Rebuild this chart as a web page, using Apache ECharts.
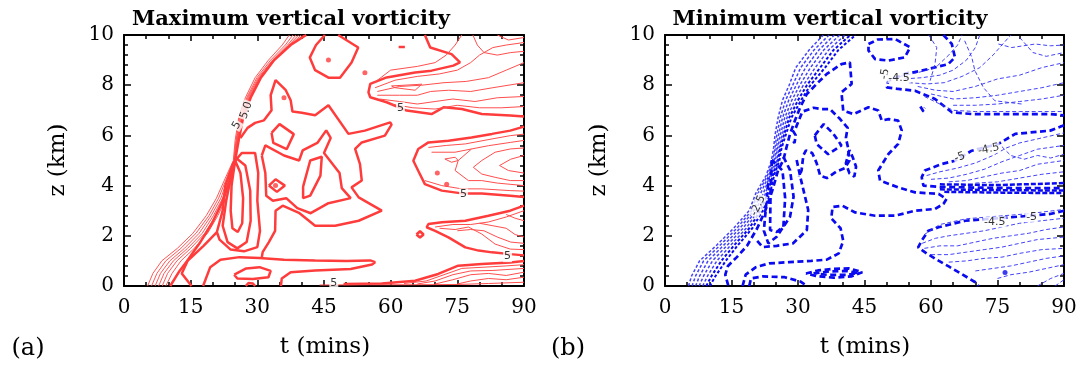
<!DOCTYPE html>
<html>
<head>
<meta charset="utf-8">
<script src="https://cdn.jsdelivr.net/npm/echarts@6/dist/echarts.min.js"></script>
<style>
  html, body { margin: 0; padding: 0; background: #fff; }
  #chart { width: 1081px; height: 365px; }
</style>
</head>
<body>
<div id="chart"></div>
<script>
// Contour traces of vertical vorticity in the (t, z) plane: [t in mins, z in km]

// ---------- (a) maximum vertical vorticity ----------
const maxFrontBold = [[10.4,0],[12.5,0.6],[14.2,1.0],[17,1.7],[19.8,2.5],[22,3.3],[23.8,4.2],[25,5.0],[25.8,5.8],[26.8,6.7],[28.5,7.5],[30.8,8.3],[33.8,9.0],[37.5,9.6],[41,10]];
const maxFrontThin = [
  [[5.3,0],[6.5,0.5],[8.5,1.0],[12,1.5],[15.5,2.1],[18.5,2.8],[20.8,3.5],[22.8,4.3],[24.6,5.0],[25.0,5.8],[25.8,6.7],[27.3,7.5],[29.5,8.3],[32.5,9.0],[35.6,9.6],[37.2,10]],
  [[6.2,0],[7.4,0.5],[9.4,1.0],[12.8,1.5],[16.2,2.1],[19.1,2.8],[21.3,3.5],[23.1,4.3],[24.7,5.0],[25.2,5.8],[26.0,6.7],[27.6,7.5],[29.9,8.3],[33.0,9.0],[36.3,9.6],[38.0,10]],
  [[7.0,0],[8.2,0.5],[10.3,1.0],[13.6,1.5],[16.9,2.1],[19.6,2.8],[21.8,3.5],[23.4,4.3],[24.8,5.0],[25.3,5.8],[26.2,6.7],[27.8,7.5],[30.2,8.3],[33.4,9.0],[36.8,9.6],[38.7,10]],
  [[7.8,0],[9.0,0.5],[11.1,1.0],[14.3,1.5],[17.6,2.1],[20.1,2.8],[22.2,3.5],[23.7,4.3],[24.9,5.0],[25.4,5.8],[26.4,6.7],[28.0,7.5],[30.4,8.3],[33.6,9.0],[37.1,9.6],[39.3,10]],
  [[8.6,0],[9.8,0.5],[11.9,1.0],[15.0,1.5],[18.2,2.1],[20.6,2.8],[22.6,3.5],[24.0,4.3],[25.0,5.0],[25.5,5.8],[26.5,6.7],[28.2,7.5],[30.6,8.3],[33.7,9.0],[37.3,9.6],[39.9,10]],
  [[9.4,0],[10.8,0.5],[12.8,1.0],[15.8,1.5],[18.8,2.1],[21.1,2.8],[23.0,3.5],[24.3,4.3],[25.0,5.0],[25.6,5.8],[26.6,6.7],[28.3,7.5],[30.7,8.3],[33.8,9.0],[37.4,9.6],[40.5,10]]
];
const maxLoops = [
  [[25,5.0],[24.2,4.0],[24.0,3.0],[24.4,2.3],[25.6,2.15],[26.6,2.5],[26.8,3.5],[26.2,4.5],[25,5.0]],
  [[25.2,5.1],[27.3,4.8],[28.4,3.8],[28.5,2.6],[27.6,1.75],[25.5,1.5],[23.3,1.75],[22.2,2.4],[23,3.4],[24,4.3],[25.2,5.1]],
  [[15.2,0],[13,0.5],[14.3,1.0],[17.9,1.6],[20.9,2.15],[22.2,3.0],[22.8,4.0],[24.6,4.9],[26.5,5.3],[29.5,5.3],[30.2,4.5],[30,3.4],[30.6,2.2],[30,1.55],[27,1.38],[24,1.45],[21.5,1.85],[20.9,2.15]]
];
const maxOuter = [[26.2,5.9],[27.8,6.3],[29.5,6.5],[31.5,6.6],[33.2,7.0],[33,7.6],[34.1,8.2],[36.4,7.8],[37.5,7.4],[37.9,6.95],[40,6.9],[43,6.8],[46,7.2],[50.5,6.06],[54.2,6.19],[59.9,6.52],[60.2,6.43],[58.7,5.99],[53.5,5.72],[52,5.46],[53.1,4.86],[53.5,4.2],[51.2,3.93],[52.8,3.53],[58,3.0],[52.8,2.6],[47.5,2.4],[43,2.4],[39.5,2.9],[35.7,3.2],[34.1,3.0],[34,2.2],[32.6,1.75],[31.2,1.35],[31,1.13]];
const maxInner = [[31,5.2],[31.8,5.6],[36,5.2],[39.4,5.0],[40.2,5.4],[43.5,5.7],[45.5,6.2],[46.5,5.9],[45,5.3],[48.5,4.5],[49,3.9],[51,3.5],[46,3.3],[42,2.9],[39,3.1],[36.5,3.5],[33.5,3.4],[32,3.6],[31.8,4.5],[31,5.2]];
const maxTongue = [[17.8,0],[19.4,0.75],[21.7,1.05],[26,1.15],[30.5,1.12],[36,1.05],[43,1.02],[50,1.0],[55.4,1.02],[56.5,0.95],[55.8,0.86],[51,0.68],[43,0.62],[37.5,0.55],[35.5,0.3],[35.3,0]];
const maxSmall = [
  [[24.8,0.45],[27.5,0.7],[30.5,0.75],[33,0.6],[32.5,0.35],[29,0.28],[25.5,0.3],[24.8,0.45]],
  [[45.2,10],[43.2,9.6],[41.8,9.1],[43,8.6],[46,8.3],[48.6,8.3],[51.2,8.9],[52.7,9.5],[48.2,10]],
  [[33.2,6.1],[35,6.45],[38.2,6.05],[36.6,5.45],[33.6,5.7],[33.2,6.1]],
  [[32.6,4.0],[34.1,4.25],[36.2,4.0],[34.4,3.75],[32.6,4.0]],
  [[40.3,3.96],[41.9,5.0],[44.5,5.15],[44.2,4.4],[41.9,3.6],[40.3,3.5],[40.3,3.96]],
  [[65.8,2.05],[66.6,2.18],[67.4,2.05],[66.6,1.93],[65.8,2.05]],
  [[61.8,9.52],[63.2,9.52]],
  [[27.4,0],[28,0.12],[29,0.1],[29.5,0]]
];
const maxUpperBold = [[67.7,10],[68.9,9.5],[73.7,9.24],[75.6,8.91],[74.1,8.78],[69.2,8.58],[65.5,8.51],[59.1,8.31],[55.4,8.05],[55,7.72],[55.4,7.52],[59.1,7.32],[63.6,6.99],[69.2,6.85],[71.9,7.12],[76,7.05],[80.5,6.85],[86.9,6.79],[90,6.75]];
const maxUpperThin = [
  [[56.3,8.1],[60,8.6],[66,8.75],[70,8.9],[72.5,9.2],[74.5,9.6],[76,10]],
  [[56.5,7.9],[61,8.2],[66,8.35],[71,8.45],[75,8.6],[78,8.9],[80,9.2],[83,9.5],[86,9.6],[90,9.7]],
  [[57,7.75],[62,7.95],[67,8.0],[72,8.1],[77,8.15],[82,8.3],[86,8.6],[90,8.9]],
  [[57,7.6],[62,7.6],[66,7.6],[69,7.75],[73,7.8],[78,7.75],[83,7.9],[90,8.1]],
  [[57.5,7.45],[62,7.35],[66,7.25],[70,7.35],[74,7.45],[79,7.35],[84,7.5],[90,7.55]],
  [[60,7.25],[65,7.1],[70,7.05],[75,7.2],[80,7.1],[85,7.1],[90,7.15]],
  [[60.2,7.97],[67,8.04],[65.5,7.8],[61,7.9],[60.2,7.97]],
  [[78.5,10],[79.5,9.6],[81,9.3],[84,9.2],[87,9.3],[90,9.35]],
  [[84,10],[86.5,9.8],[90,9.9]]
];
const maxMidBold = [[90,6.35],[86.9,6.19],[82.8,6.06],[78.2,5.92],[73,5.79],[68.5,5.72],[66.2,5.46],[65.1,4.99],[66.2,4.59],[67.7,4.06],[71.5,3.8],[76,3.69],[80.5,3.69],[86.9,3.6],[90,3.55]];
const maxMidThin = [
  [[68.5,5.52],[72.5,5.6],[76.8,5.66],[81,5.8],[86.9,5.99],[90,6.05]],
  [[69.2,5.33],[74.5,5.33],[78.2,5.46],[82,5.59],[86.9,5.72],[90,5.8]],
  [[90,5.5],[86.9,5.46],[83.5,5.33],[80.5,5.0],[78.6,4.73],[80.5,4.46],[83.5,4.33],[86.9,4.2],[90,4.2]],
  [[90,5.2],[87,5.05],[84.5,4.8],[86.5,4.6],[90,4.5]],
  [[78.2,5.46],[75.2,5.0],[74.5,4.6],[77.5,4.2],[80.5,4.2],[84,4.1],[90,4.0]],
  [[67.7,4.2],[71.5,4.0],[76,3.87],[80.5,3.87],[86.9,3.8],[90,3.78]],
  [[72.2,5.06],[74.5,5.13],[75.2,5.0],[73.7,4.93],[72.2,5.06]]
];
const maxLowBold = [[90,3.2],[86.9,3.0],[82,2.8],[76.8,2.6],[71.5,2.54],[68.5,2.47],[68.1,2.34],[70,2.2],[73,1.94],[76.8,1.54],[79.8,1.41],[82.8,1.34],[86.9,1.27],[90,1.22]];
const maxLowThin = [
  [[70,2.35],[74,2.45],[78,2.45],[82,2.55],[86,2.75],[90,3.0]],
  [[71,2.3],[74.5,2.25],[77.5,2.35],[80.5,2.07],[83.5,1.67],[86.9,1.47],[90,1.45]],
  [[75,2.2],[78,2.25],[81,2.2],[84,1.95],[87,1.75],[90,1.7]],
  [[80,2.5],[83,2.4],[86,2.3],[88,2.05],[90,1.95]],
  [[86,2.85],[88,2.7],[90,2.6]]
];
const maxBotBold = [[49.4,0.08],[58,0.1],[65.5,0.21],[70.7,0.48],[75.2,0.81],[80.5,0.88],[86.9,0.94],[90,1.0]];
const maxBotThin = [
  [[63,0.1],[68,0.2],[72,0.45],[76,0.7],[81,0.75],[86,0.8],[90,0.85]],
  [[66,0.08],[70,0.2],[74,0.45],[78,0.6],[83,0.62],[90,0.7]],
  [[70,0.08],[74,0.25],[78,0.45],[82,0.5],[86,0.42],[90,0.55]],
  [[75,0.08],[78,0.2],[82,0.3],[86,0.25],[90,0.35]],
  [[44,0.04],[55,0.05],[65,0.05],[75,0.06],[82,0.1],[90,0.15]]
];
const maxDots = [[46,9.0],[36,7.5],[54.2,8.5],[34.1,4.0],[70.5,4.5],[72.6,4.05]];
const maxLabels = [
  { t: 27.5, z: 7.0, text: '5.0', rot: 70 },
  { t: 25.4, z: 6.4, text: '5', rot: 60 },
  { t: 62.2, z: 7.1, text: '5', rot: 0 },
  { t: 76.4, z: 3.67, text: '5', rot: 0 },
  { t: 86.3, z: 1.17, text: '5', rot: 0 },
  { t: 47.2, z: 0.13, text: '5', rot: 0 }
];

// ---------- (b) minimum vertical vorticity ----------
const minFrontThin = [
  [[5.3,0],[6.0,0.4],[7.8,1.0],[11.5,1.6],[15.5,2.3],[19.0,3.0],[20.5,3.7],[22.8,4.4],[24.0,5.0],[24.5,5.5],[24.8,6.0],[25.5,6.7],[26.5,7.4],[28.0,8.0],[29.5,8.7],[32.5,9.4],[35.7,10]],
  [[6.1,0],[6.9,0.4],[8.7,1.0],[12.3,1.6],[16.2,2.3],[19.5,3.0],[21.0,3.7],[23.1,4.4],[24.3,5.0],[24.8,5.5],[25.2,6.0],[26.0,6.7],[27.2,7.4],[28.8,8.0],[30.6,8.7],[33.6,9.4],[37.0,10]],
  [[6.9,0],[7.8,0.4],[9.7,1.0],[13.1,1.6],[16.9,2.3],[20.0,3.0],[21.6,3.7],[23.4,4.4],[24.6,5.0],[25.1,5.5],[25.6,6.0],[26.5,6.7],[27.9,7.4],[29.6,8.0],[31.7,8.7],[34.7,9.4],[38.2,10]],
  [[7.7,0],[8.7,0.4],[10.7,1.0],[13.9,1.6],[17.6,2.3],[20.5,3.0],[22.2,3.7],[23.7,4.4],[24.9,5.0],[25.4,5.5],[26.0,6.0],[27.0,6.7],[28.6,7.4],[30.4,8.0],[32.8,8.7],[35.8,9.4],[39.4,10]],
  [[8.5,0],[9.6,0.4],[11.7,1.0],[14.7,1.6],[18.3,2.3],[21.0,3.0],[22.7,3.7],[24.0,4.4],[25.2,5.0],[25.7,5.5],[26.4,6.0],[27.5,6.7],[29.3,7.4],[31.2,8.0],[33.9,8.7],[36.9,9.4],[40.6,10]]
];
const minFrontHeavy = [
  [[9.3,0],[10.5,0.4],[12.7,1.0],[15.5,1.6],[19.0,2.3],[21.5,3.0],[23.2,3.7],[24.3,4.4],[25.5,5.0],[26.0,5.5],[26.8,6.0],[28.0,6.7],[30.0,7.4],[32.0,8.0],[35.0,8.7],[38.0,9.4],[41.8,10]],
  [[10.1,0],[11.4,0.4],[13.7,1.0],[16.3,1.6],[19.7,2.3],[22.0,3.0],[23.7,3.7],[24.6,4.4],[25.8,5.0],[26.3,5.5],[27.2,6.0],[28.5,6.7],[30.7,7.4],[32.8,8.0],[36.1,8.7],[39.1,9.4],[43.0,10]]
];
const minOuter = [[17.5,0],[18.2,0.45],[20.5,0.75],[23.5,0.9],[28,0.95],[33,1.0],[36.5,1.05],[39.2,1.3],[40.2,1.8],[39.6,2.3],[37.5,2.7],[37.8,3.15],[40,3.2],[42.9,2.93],[47.4,2.8],[51.9,2.8],[56.4,3.0],[60.9,3.07],[62.8,3.27],[63.5,3.47],[61.7,3.67],[56.4,3.73],[52.6,3.93],[48.5,4.2],[48.1,4.6],[50.4,5.26],[52.6,5.66],[53.4,6.19],[52.6,6.59],[50.4,6.65],[48.9,6.59],[48.1,6.99],[45.9,7.12],[42.5,6.85],[40.2,6.99],[39.8,7.72],[42.1,8.05],[41.7,8.91],[39.8,8.84],[36.5,8.45],[34.2,8.05],[32,7.65],[30.5,7.12],[29.3,6.59],[28.2,6.06],[27.4,5.52],[26.7,5.02],[25.5,4.6],[24.2,3.8],[22.6,3.0],[20.8,2.3],[18.5,1.6],[16.2,1.15],[14.2,0.8],[13.6,0.45],[14.3,0]];
const minLoops = [
  [[24.1,5.02],[23.8,3.6],[23.7,2.23],[25.2,2.15],[26.7,2.36],[27.1,3.5],[26.5,4.6],[24.1,5.02]],
  [[26.7,5.15],[28.2,4.62],[29,3.56],[28.2,2.76],[25.2,1.96],[23.3,1.7],[22.3,2.2],[22.8,3.2],[23.4,4.3]],
  [[29.7,5.02],[30.5,4.36],[32.3,3.03],[32,2.23],[28.9,1.7],[25.2,1.6],[22,1.55],[20.3,1.9]],
  [[29.5,6.3],[31,6.95],[33.5,7.1],[35.2,7.05],[37.2,7.05],[39.5,6.65],[41.2,6.3],[40.8,5.9],[41.3,5.5],[41.6,5.0],[40.6,4.7],[38.6,4.55],[36.5,4.3],[35,4.4],[34.2,4.9],[33.2,5.3],[31.8,5.4],[31.2,5.2],[30.8,4.6],[30.2,4.35]]
];
const minSmall = [
  [[33.8,6.0],[35.8,6.45],[38,6.06],[39.8,5.6],[36.8,5.25],[34.2,5.66],[33.8,6.0]],
  [[41.6,5.42],[40.8,4.89],[41.6,4.49],[42.7,4.36],[43.1,4.75],[42.3,5.15],[41.6,5.42]],
  [[28.8,6.2],[29.5,6.0],[29.2,5.7],[28.6,5.85]],
  [[45.9,9.64],[48,9.82],[51.9,9.84],[55.3,9.51],[54.1,9.11],[50.4,8.98],[47.4,9.04],[45.9,9.38],[45.9,9.64]],
  [[31.8,0.5],[34.5,0.62],[38,0.68],[41.5,0.7],[44.5,0.55],[42,0.38],[38,0.33],[34,0.4],[31.8,0.5]],
  [[33.5,0.5],[37,0.58],[41,0.6],[43.5,0.52],[41,0.44],[37,0.44],[33.5,0.5]],
  [[19,0],[19.4,0.3],[22,0.38],[27,0.35],[30.5,0.18],[32,0]],
  [[57.6,7.15],[58.3,6.95],[58.6,7.1]]
];
const minUpperBold = [[62.8,10],[64.7,9.64],[65.4,9.11],[63.9,8.84],[57.9,8.58],[54.1,8.45],[50.4,8.18],[50,7.91],[52.6,7.85],[56.4,7.78],[60.9,7.45],[64.7,6.92],[69.2,6.85],[76.7,6.85],[86.9,6.85],[90,6.8]];
const minUpperThin = [
  [[53,8.35],[57,8.5],[61,8.7],[64,9.2],[66,9.6],[67,10]],
  [[54,8.25],[58,8.3],[62,8.4],[65,8.6],[68,9.0],[70,9.5],[71,10]],
  [[55,8.1],[59,8.05],[63,8.1],[67,8.35],[71,8.7],[74,9.2],[76,9.6],[78,10]],
  [[57,7.95],[61,7.8],[65,7.75],[70,7.95],[75,8.25],[80,8.4],[85,8.7],[90,8.9]],
  [[60,7.65],[65,7.45],[70,7.5],[75,7.6],[80,7.75],[85,7.9],[90,8.1]],
  [[65,7.2],[70,7.2],[75,7.25],[80,7.35],[85,7.45],[90,7.6]],
  [[59.5,10],[61.3,9.5],[60.9,8.84],[59.8,8.18]],
  [[67.6,9.77],[69.2,9.11],[69.9,8.58],[71.8,7.91],[74.4,7.38],[80.5,7.25]],
  [[75.2,9.64],[78.2,9.5],[83.5,9.64],[86.9,9.57],[90,9.6]],
  [[80,9.9],[83,9.3],[86,9.15],[90,9.3]],
  [[58.5,7.55],[62,7.25],[65,7.0],[70,6.95],[80,6.95],[90,6.95]]
];
const minMidBold = [[90,6.4],[86.9,6.19],[79,6.06],[75.2,5.66],[69.2,5.39],[65.4,4.99],[62.4,4.86],[58.6,4.6],[57.9,4.33],[58.3,4.0],[62,3.95],[70,3.92],[80,3.9],[90,3.9]];
const minMidDense = [
  [[62,4.05],[75,4.02],[90,4.1]],
  [[62,3.85],[75,3.82],[90,3.8]],
  [[63,3.75],[76,3.72],[90,3.7]]
];
const minMidThin = [
  [[59,4.4],[62,4.55],[66,4.7],[70,4.9],[74,5.2],[77,5.5],[80,5.7],[85,5.9],[90,6.1]],
  [[60,4.25],[64,4.3],[68,4.45],[72,4.65],[76,4.95],[80,5.2],[84,5.45],[90,5.6]],
  [[64,4.15],[68,4.2],[72,4.35],[76,4.5],[80,4.6],[84,4.85],[90,5.0]],
  [[70,4.1],[75,4.15],[80,4.3],[85,4.45],[90,4.55]],
  [[76,5.55],[78,5.2],[81,5.05],[84,5.2],[87,5.1],[90,5.25]]
];
const minLowBold = [[90,3.0],[86.9,2.87],[78.2,2.74],[72.9,2.67],[67.7,2.6],[61.7,2.34],[59.4,2.2],[57.9,1.81],[57.1,1.54],[59,1.3],[61.7,1.01],[64,0.78],[66.9,0.48],[70,0.15],[70.7,0]];
const minLowThin = [
  [[58.5,2.05],[62,2.45],[68,2.68],[75,2.78],[82,2.88],[90,3.05]],
  [[58,1.7],[61,1.9],[64,2.0],[68,2.1],[72,2.2],[76,2.35],[80,2.5],[85,2.6],[90,2.7]],
  [[58.5,1.5],[62,1.6],[66,1.6],[70,1.75],[74,1.9],[78,2.0],[82,2.1],[86,2.25],[90,2.35]],
  [[60,1.25],[64,1.25],[68,1.35],[72,1.45],[76,1.55],[80,1.7],[84,1.85],[90,1.95]],
  [[64,0.95],[68,1.0],[72,1.1],[76,1.15],[80,1.3],[85,1.45],[90,1.5]],
  [[70,0.6],[74,0.7],[78,0.8],[82,0.95],[86,1.1],[90,1.2]],
  [[75,0.3],[78,0.45],[82,0.55],[86,0.7],[90,0.85]],
  [[84,0],[87,0.3],[90,0.5]],
  [[88,0],[90,0.25]]
];
const minDots = [[76.7,0.54]];
const minLabels = [
  { t: 21.0, z: 3.2, text: '-2.5', rot: 65 },
  { t: 49.6, z: 8.45, text: '-5', rot: 80 },
  { t: 52.8, z: 8.3, text: '-4.5', rot: 0 },
  { t: 66.5, z: 5.13, text: '-5', rot: 20 },
  { t: 73.0, z: 5.45, text: '-4.5', rot: 12 },
  { t: 74.4, z: 2.55, text: '-4.5', rot: 0 },
  { t: 82.7, z: 2.75, text: '-5', rot: 0 }
];

// axis ranges and tick spacing
const tRange = [0, 90], tStep = 15;
const zRange = [0, 10], zStep = 2;

// ---------- styling ----------
const RED_BOLD = '#ff3c3c', RED_THIN = '#ff4e4e';
const BLUE_BOLD = '#0a0af0', BLUE_THIN = '#2f2ff8';
const SERIF = '"DejaVu Serif", "Liberation Serif", serif';

const series = [];
function lines(list, g, color, width, dash, opacity) {
  list.forEach(pts => {
    series.push({
      type: 'line', xAxisIndex: g * 2, yAxisIndex: g * 2, data: pts,
      symbol: 'none', silent: true, animation: false,
      lineStyle: { color, width, type: dash || 'solid', opacity: opacity == null ? 1 : opacity, cap: 'butt' },
      z: 2
    });
  });
}
function dots(list, g, color, size) {
  series.push({
    type: 'scatter', xAxisIndex: g * 2, yAxisIndex: g * 2, data: list,
    symbol: 'circle', symbolSize: size, itemStyle: { color }, silent: true, z: 3
  });
}
function labels(list, g) {
  series.push({
    type: 'scatter', xAxisIndex: g * 2, yAxisIndex: g * 2, symbolSize: 2, silent: true, z: 5,
    itemStyle: { color: 'rgba(255,255,255,0)' },
    data: list.map(l => ({
      value: [l.t, l.z], name: l.text,
      label: { show: true, position: 'inside', formatter: l.text, rotate: l.rot,
        color: '#000', fontSize: 11, fontFamily: '"DejaVu Sans", sans-serif',
        backgroundColor: '#fff', padding: [0, 1] }
    }))
  });
}

// panel (a): solid red contours
lines(maxFrontThin, 0, RED_THIN, 1, 'solid', 0.95);
lines([maxFrontBold], 0, RED_BOLD, 2.5);
lines(maxLoops, 0, RED_BOLD, 2.5);
lines([maxOuter, maxInner, maxTongue], 0, RED_BOLD, 2.5);
lines(maxSmall, 0, RED_BOLD, 2.5);
lines([maxUpperBold, maxMidBold, maxLowBold, maxBotBold], 0, RED_BOLD, 2.5);
lines(maxUpperThin, 0, RED_THIN, 1);
lines(maxMidThin, 0, RED_THIN, 1);
lines(maxLowThin, 0, RED_THIN, 1);
lines(maxBotThin, 0, RED_THIN, 1);
dots(maxDots, 0, RED_BOLD, 5);
labels(maxLabels, 0);

// panel (b): dashed blue contours
const BOLD_DASH = [6, 3.5], THIN_DASH = [4, 2.5], FRONT_DASH = [3, 2];
lines(minFrontThin, 1, BLUE_THIN, 1.5, FRONT_DASH, 0.9);
lines(minFrontHeavy, 1, BLUE_BOLD, 2, FRONT_DASH);
lines([minOuter], 1, BLUE_BOLD, 2.7, BOLD_DASH);
lines(minLoops, 1, BLUE_BOLD, 2.7, BOLD_DASH);
lines(minSmall, 1, BLUE_BOLD, 2.7, BOLD_DASH);
lines([minUpperBold, minMidBold, minLowBold], 1, BLUE_BOLD, 2.7, BOLD_DASH);
lines(minMidDense, 1, BLUE_BOLD, 2.5, [5, 2]);
lines(minUpperThin, 1, BLUE_THIN, 1, THIN_DASH, 0.9);
lines(minMidThin, 1, BLUE_THIN, 1, THIN_DASH, 0.9);
lines(minLowThin, 1, BLUE_THIN, 1, THIN_DASH, 0.9);
dots(minDots, 1, BLUE_BOLD, 5);
labels(minLabels, 1);

// ---------- axes ----------
const grids = [
  { left: 124, top: 35, width: 400, height: 251 },
  { left: 665, top: 35, width: 399, height: 251 }
];
const frame = { show: true, onZero: false, lineStyle: { color: '#000', width: 2 } };
const xAxes = [], yAxes = [];
grids.forEach((g, i) => {
  [['bottom', true], ['top', false]].forEach(([pos, lab]) => xAxes.push({
    type: 'value', gridIndex: i, position: pos, min: tRange[0], max: tRange[1], interval: tStep,
    axisLine: frame, splitLine: { show: false },
    axisTick: { show: true, inside: true, length: 6, lineStyle: { color: '#000', width: 1.5 } },
    minorTick: { show: true, splitNumber: 3, length: 4, lineStyle: { color: '#000', width: 1.5 } },
    axisLabel: { show: lab, color: '#000', fontFamily: SERIF, fontSize: 20, margin: 12 }
  }));
  [['left', true], ['right', false]].forEach(([pos, lab]) => yAxes.push({
    type: 'value', gridIndex: i, position: pos, min: zRange[0], max: zRange[1], interval: zStep,
    axisLine: frame, splitLine: { show: false },
    axisTick: { show: true, inside: true, length: 7, lineStyle: { color: '#000', width: 1.5 } },
    minorTick: { show: true, splitNumber: 5, length: 4, lineStyle: { color: '#000', width: 1.5 } },
    axisLabel: { show: lab, color: '#000', fontFamily: SERIF, fontSize: 20, margin: 10 }
  }));
});

function txt(x, y, text, font, rot) {
  return { type: 'text', x, y, rotation: rot || 0, silent: true, z: 10,
    style: { text, font, fill: '#000', textAlign: 'center', textVerticalAlign: 'middle',
      align: 'center', verticalAlign: 'middle' } };
}
const titleFont = 'bold 21px ' + SERIF;
const nameFont = '23px ' + SERIF;
const graphic = [
  txt(291, 20, 'Maximum vertical vorticity', titleFont),
  txt(830, 20, 'Minimum vertical vorticity', titleFont),
  txt(58, 160, 'z (km)', nameFont, Math.PI / 2),
  txt(599, 160, 'z (km)', nameFont, Math.PI / 2),
  txt(325, 347, 't (mins)', nameFont),
  txt(865, 347, 't (mins)', nameFont),
  txt(28, 349, '(a)', '24px ' + SERIF),
  txt(568, 349, '(b)', '24px ' + SERIF)
];

const chart = echarts.init(document.getElementById('chart'), null, { renderer: 'canvas' });
chart.setOption({
  animation: false,
  backgroundColor: '#fff',
  grid: grids,
  xAxis: xAxes,
  yAxis: yAxes,
  series,
  graphic
});
</script>
</body>
</html>
